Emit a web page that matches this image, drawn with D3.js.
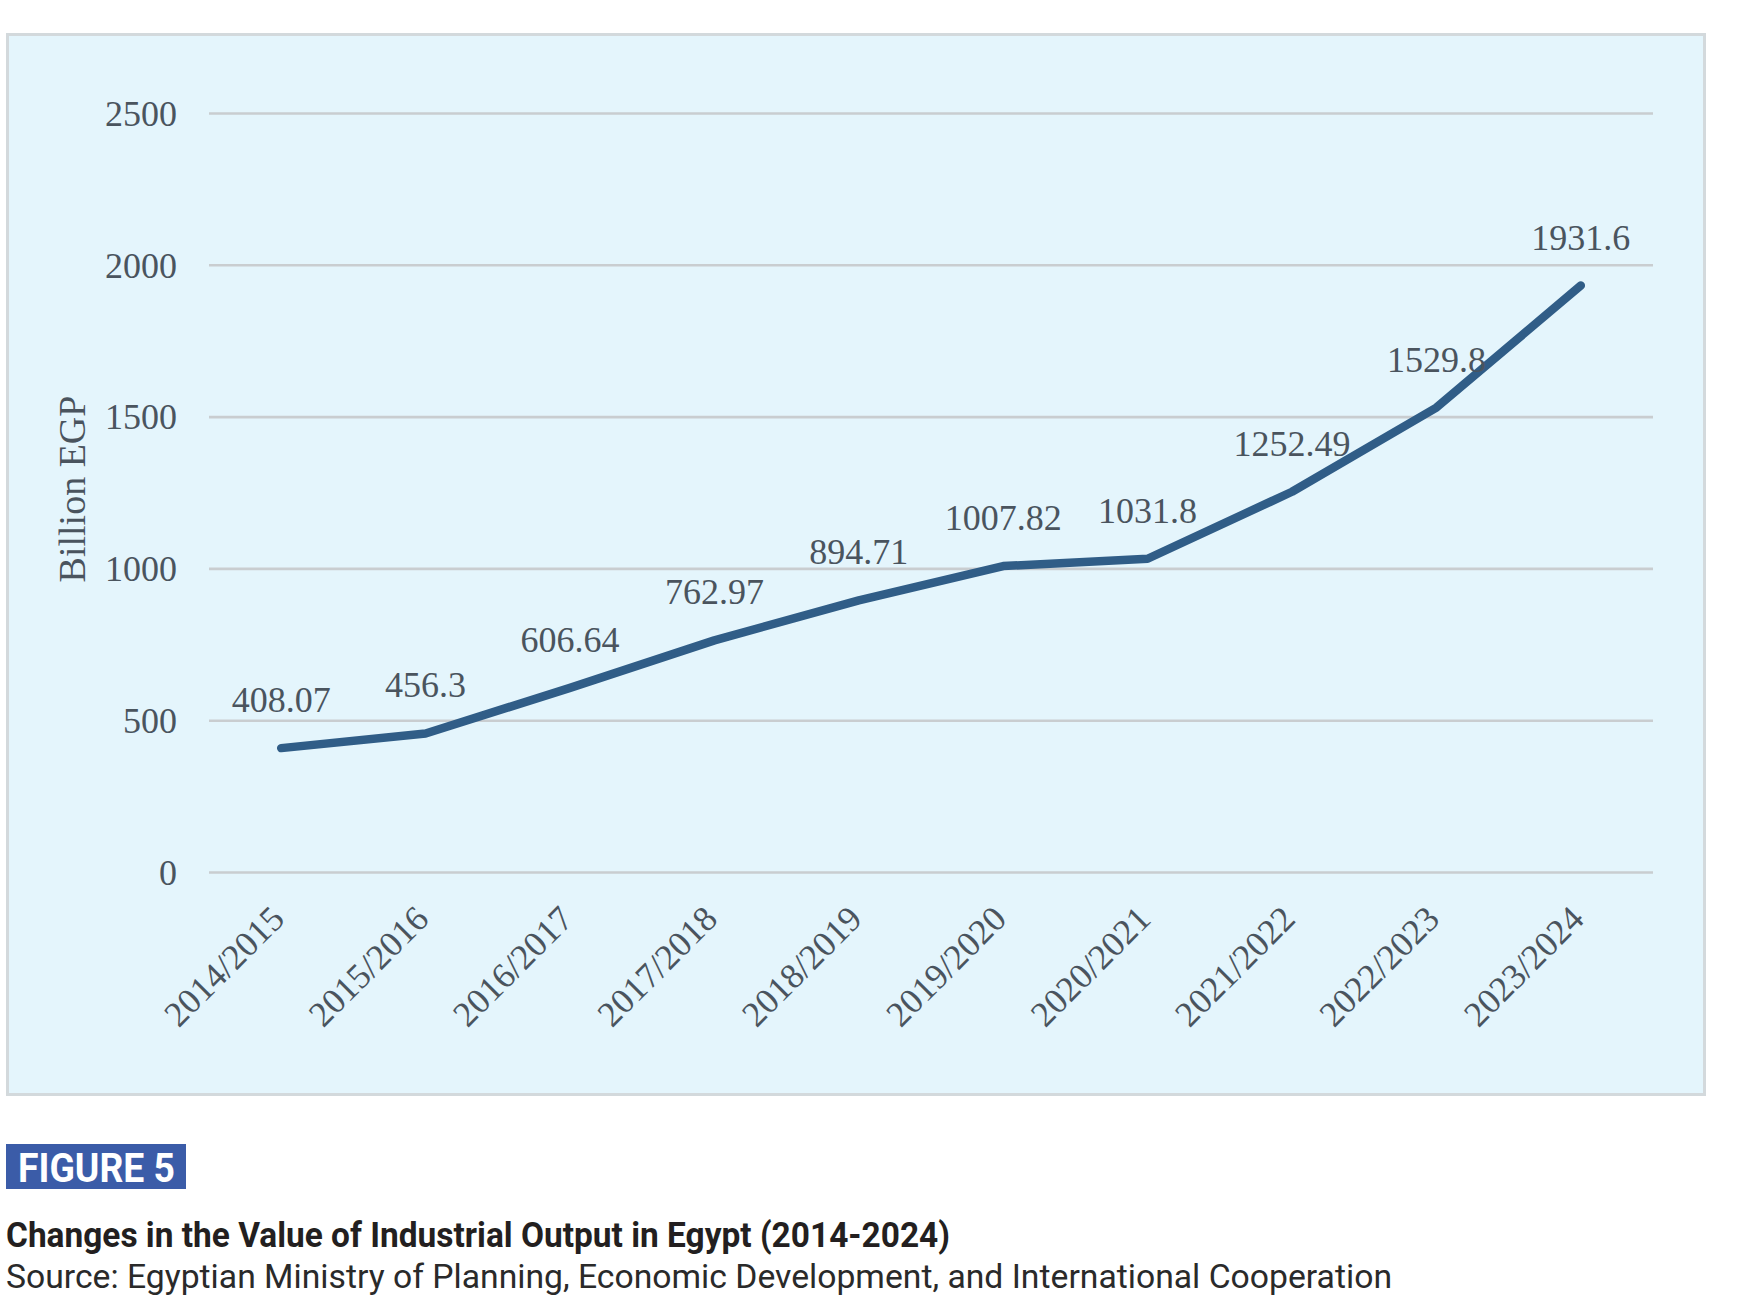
<!DOCTYPE html>
<html>
<head>
<meta charset="utf-8">
<script src="https://cdn.jsdelivr.net/npm/d3@7"></script>
<style>
  html, body { margin: 0; padding: 0; background: #ffffff; }
  svg { display: block; }
</style>
</head>
<body>
<script>
const categories = ["2014/2015","2015/2016","2016/2017","2017/2018","2018/2019","2019/2020","2020/2021","2021/2022","2022/2023","2023/2024"];
const values = [408.07, 456.3, 606.64, 762.97, 894.71, 1007.82, 1031.8, 1252.49, 1529.8, 1931.6];
const valueLabels = ["408.07","456.3","606.64","762.97","894.71","1007.82","1031.8","1252.49","1529.8","1931.6"];
const yTicks = [0, 500, 1000, 1500, 2000, 2500];
const yTitle = "Billion EGP";
const figureTag = "FIGURE 5";
const titleText = "Changes in the Value of Industrial Output in Egypt (2014-2024)";
const sourceText = "Source: Egyptian Ministry of Planning, Economic Development, and International Cooperation";

const W = 1740, H = 1297;
const svg = d3.select("body").append("svg").attr("width", W).attr("height", H);

// panel
svg.append("rect")
  .attr("x", 7.5).attr("y", 34.5).attr("width", 1697).attr("height", 1060)
  .attr("fill", "#e4f5fc").attr("stroke", "#d3d9dc").attr("stroke-width", 3);

const plotL = 209, plotR = 1653, plotT = 113, plotB = 872;
const x = d3.scalePoint().domain(categories).range([plotL, plotR]).padding(0.5);
const y = d3.scaleLinear().domain([0, 2500]).range([plotB, plotT]);

const serif = "'Liberation Serif', 'Times New Roman', serif";
const textCol = "#4a545e";

// gridlines + y labels via axis
const yAxis = d3.axisLeft(y).tickValues(yTicks).tickSize(-(plotR - plotL)).tickPadding(32).tickFormat(d3.format("d"));
const gy = svg.append("g").attr("transform", `translate(${plotL},0)`).call(yAxis);
gy.select(".domain").remove();
gy.selectAll(".tick line").attr("stroke", "#c9cdd0").attr("stroke-width", 2.6);
gy.selectAll(".tick text")
  .attr("font-family", serif).attr("font-size", 36).attr("fill", textCol)
  .attr("dy", "0.34em");

// y title
svg.append("text")
  .attr("transform", "translate(85,489) rotate(-90)")
  .attr("text-anchor", "middle")
  .attr("font-family", serif).attr("font-size", 38).attr("fill", textCol)
  .text(yTitle);

// x labels
const gx = svg.append("g");
gx.selectAll("text").data(categories).enter().append("text")
  .attr("transform", d => `translate(${x(d) + 5},921) rotate(-45)`)
  .attr("text-anchor", "end")
  .attr("font-family", serif).attr("font-size", 35.5).attr("fill", textCol)
  .text(d => d);

// line
const line = d3.line().x((d, i) => x(categories[i])).y(d => y(d));
svg.append("path").datum(values)
  .attr("d", line)
  .attr("fill", "none").attr("stroke", "#305d87").attr("stroke-width", 8.5)
  .attr("stroke-linejoin", "round").attr("stroke-linecap", "round");

// data labels
svg.append("g").selectAll("text").data(values).enter().append("text")
  .attr("x", (d, i) => x(categories[i]))
  .attr("y", d => y(d) - 36)
  .attr("text-anchor", "middle")
  .attr("font-family", serif).attr("font-size", 36).attr("fill", textCol)
  .text((d, i) => valueLabels[i]);

// caption
const sans = "Roboto, 'Noto Sans', sans-serif";
svg.append("rect").attr("x", 6).attr("y", 1144).attr("width", 180).attr("height", 45).attr("fill", "#3b5ca8");
svg.append("text").attr("x", 18).attr("y", 1182)
  .attr("font-family", sans).attr("font-weight", 700).attr("font-size", 40).attr("fill", "#ffffff")
  .attr("textLength", 157).attr("lengthAdjust", "spacingAndGlyphs")
  .text(figureTag);
svg.append("text").attr("x", 6).attr("y", 1247)
  .attr("font-family", sans).attr("font-weight", 700).attr("font-size", 35).attr("fill", "#231f20")
  .attr("textLength", 944).attr("lengthAdjust", "spacingAndGlyphs")
  .text(titleText);
svg.append("text").attr("x", 6).attr("y", 1288)
  .attr("font-family", sans).attr("font-weight", 400).attr("font-size", 34).attr("fill", "#2a2a2a")
  .attr("textLength", 1386).attr("lengthAdjust", "spacingAndGlyphs")
  .text(sourceText);
</script>
</body>
</html>
